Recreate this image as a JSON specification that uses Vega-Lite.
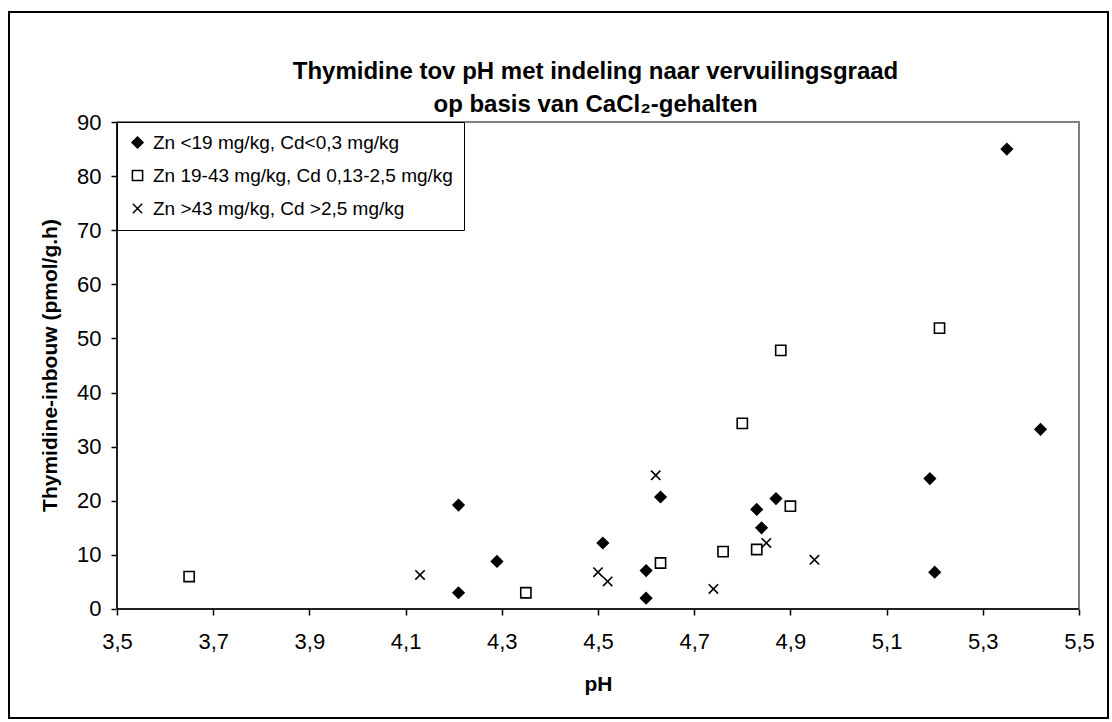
{
  "$schema": "https://vega.github.io/schema/vega-lite/v6.json",
  "width": 1099,
  "height": 706,
  "autosize": "none",
  "padding": {"left": 9, "top": 12, "right": 4, "bottom": 4},
  "background": "white",
  "title": {
    "text": ["Thymidine tov pH met indeling naar vervuilingsgraad", "op basis van CaCl₂-gehalten"],
    "font": "Liberation Sans",
    "fontSize": 24,
    "fontWeight": "bold",
    "color": "black",
    "lineHeight": 33,
    "anchor": "middle",
    "offset": 8,
    "dx": 37,
    "dy": 113
  },
  "layer": [
    {
      "data": {"values": [{}]},
      "mark": {"type": "rect", "fill": "white", "stroke": "#808080", "strokeWidth": 2},
      "encoding": {
        "x": {"datum": 3.5, "type": "quantitative"},
        "x2": {"datum": 5.5},
        "y": {"datum": 0, "type": "quantitative"},
        "y2": {"datum": 90}
      }
    },
    {
      "data": {"values": [{}]},
      "mark": {"type": "rule", "color": "black", "strokeWidth": 1.5},
      "encoding": {
        "x": {"datum": 3.5, "type": "quantitative"},
        "y": {"datum": 0, "type": "quantitative"},
        "y2": {"datum": 90}
      }
    },
    {
      "data": {"values": [{}]},
      "mark": {"type": "rule", "color": "black", "strokeWidth": 1.5},
      "encoding": {
        "x": {"datum": 3.5, "type": "quantitative"},
        "x2": {"datum": 5.5},
        "y": {"datum": 0, "type": "quantitative"}
      }
    },
    {
      "data": {
        "values": [
          {"pH": 4.21, "t": 19.2, "g": "Zn <19 mg/kg, Cd<0,3 mg/kg"},
          {"pH": 4.29, "t": 8.8, "g": "Zn <19 mg/kg, Cd<0,3 mg/kg"},
          {"pH": 4.21, "t": 3.0, "g": "Zn <19 mg/kg, Cd<0,3 mg/kg"},
          {"pH": 4.51, "t": 12.2, "g": "Zn <19 mg/kg, Cd<0,3 mg/kg"},
          {"pH": 4.6, "t": 7.1, "g": "Zn <19 mg/kg, Cd<0,3 mg/kg"},
          {"pH": 4.6, "t": 2.0, "g": "Zn <19 mg/kg, Cd<0,3 mg/kg"},
          {"pH": 4.63, "t": 20.7, "g": "Zn <19 mg/kg, Cd<0,3 mg/kg"},
          {"pH": 4.83, "t": 18.4, "g": "Zn <19 mg/kg, Cd<0,3 mg/kg"},
          {"pH": 4.84, "t": 15.0, "g": "Zn <19 mg/kg, Cd<0,3 mg/kg"},
          {"pH": 4.87, "t": 20.4, "g": "Zn <19 mg/kg, Cd<0,3 mg/kg"},
          {"pH": 5.19, "t": 24.1, "g": "Zn <19 mg/kg, Cd<0,3 mg/kg"},
          {"pH": 5.2, "t": 6.8, "g": "Zn <19 mg/kg, Cd<0,3 mg/kg"},
          {"pH": 5.42, "t": 33.2, "g": "Zn <19 mg/kg, Cd<0,3 mg/kg"},
          {"pH": 5.35, "t": 85.0, "g": "Zn <19 mg/kg, Cd<0,3 mg/kg"},
          {"pH": 3.65, "t": 6.0, "g": "Zn 19-43 mg/kg, Cd 0,13-2,5 mg/kg"},
          {"pH": 4.35, "t": 3.0, "g": "Zn 19-43 mg/kg, Cd 0,13-2,5 mg/kg"},
          {"pH": 4.63, "t": 8.5, "g": "Zn 19-43 mg/kg, Cd 0,13-2,5 mg/kg"},
          {"pH": 4.76, "t": 10.6, "g": "Zn 19-43 mg/kg, Cd 0,13-2,5 mg/kg"},
          {"pH": 4.8, "t": 34.3, "g": "Zn 19-43 mg/kg, Cd 0,13-2,5 mg/kg"},
          {"pH": 4.83, "t": 11.0, "g": "Zn 19-43 mg/kg, Cd 0,13-2,5 mg/kg"},
          {"pH": 4.88, "t": 47.8, "g": "Zn 19-43 mg/kg, Cd 0,13-2,5 mg/kg"},
          {"pH": 4.9, "t": 19.0, "g": "Zn 19-43 mg/kg, Cd 0,13-2,5 mg/kg"},
          {"pH": 5.21, "t": 51.9, "g": "Zn 19-43 mg/kg, Cd 0,13-2,5 mg/kg"},
          {"pH": 4.13, "t": 6.3, "g": "Zn >43 mg/kg, Cd >2,5 mg/kg"},
          {"pH": 4.5, "t": 6.8, "g": "Zn >43 mg/kg, Cd >2,5 mg/kg"},
          {"pH": 4.52, "t": 5.1, "g": "Zn >43 mg/kg, Cd >2,5 mg/kg"},
          {"pH": 4.62, "t": 24.7, "g": "Zn >43 mg/kg, Cd >2,5 mg/kg"},
          {"pH": 4.74, "t": 3.7, "g": "Zn >43 mg/kg, Cd >2,5 mg/kg"},
          {"pH": 4.85, "t": 12.2, "g": "Zn >43 mg/kg, Cd >2,5 mg/kg"},
          {"pH": 4.95, "t": 9.1, "g": "Zn >43 mg/kg, Cd >2,5 mg/kg"}
        ]
      },
      "mark": {"type": "point", "filled": true, "stroke": "black", "strokeWidth": 1.6, "opacity": 1},
      "encoding": {
        "x": {
          "field": "pH", "type": "quantitative",
          "scale": {"domain": [3.27547, 5.56029], "nice": false, "zero": false},
          "axis": {
            "title": "pH",
            "offset": -109,
            "domain": false,
            "values": [3.5, 3.7, 3.9, 4.1, 4.3, 4.5, 4.7, 4.9, 5.1, 5.3, 5.5],
            "labelExpr": "replace(format(datum.value, '.1f'), '.', ',')",
            "labelPadding": 16,
            "titlePadding": 21,
            "titleX": 589
          }
        },
        "y": {
          "field": "t", "type": "quantitative",
          "scale": {"domain": [-20.144, 110.329], "nice": false, "zero": false},
          "axis": {
            "title": "Thymidine-inbouw (pmol/g.h)",
            "offset": -108,
            "domain": false,
            "values": [0, 10, 20, 30, 40, 50, 60, 70, 80, 90],
            "labelPadding": 10,
            "titlePadding": 16
          }
        },
        "shape": {
          "field": "g", "type": "nominal",
          "scale": {
            "domain": ["Zn <19 mg/kg, Cd<0,3 mg/kg", "Zn 19-43 mg/kg, Cd 0,13-2,5 mg/kg", "Zn >43 mg/kg, Cd >2,5 mg/kg"],
            "range": ["diamond", "square", "M-1,-1L1,1M-1,1L1,-1"]
          },
          "legend": {
            "title": null, "orient": "none", "legendX": 108, "legendY": 110,
            "padding": 11, "rowPadding": 13, "labelOffset": 6, "labelLimit": 500,
            "labelFontSize": 19, "labelFont": "Liberation Sans", "labelColor": "black",
            "strokeColor": "black", "fillColor": "white"
          }
        },
        "fill": {
          "field": "g", "type": "nominal",
          "scale": {
            "domain": ["Zn <19 mg/kg, Cd<0,3 mg/kg", "Zn 19-43 mg/kg, Cd 0,13-2,5 mg/kg", "Zn >43 mg/kg, Cd >2,5 mg/kg"],
            "range": ["black", "white", "transparent"]
          },
          "legend": {
            "title": null, "orient": "none", "legendX": 108, "legendY": 110,
            "padding": 11, "rowPadding": 13, "labelOffset": 6, "labelLimit": 500,
            "labelFontSize": 19, "labelFont": "Liberation Sans", "labelColor": "black",
            "strokeColor": "black", "fillColor": "white"
          }
        },
        "size": {
          "field": "g", "type": "nominal",
          "scale": {
            "domain": ["Zn <19 mg/kg, Cd<0,3 mg/kg", "Zn 19-43 mg/kg, Cd 0,13-2,5 mg/kg", "Zn >43 mg/kg, Cd >2,5 mg/kg"],
            "range": [120, 88, 121]
          },
          "legend": {
            "title": null, "orient": "none", "legendX": 108, "legendY": 110,
            "padding": 11, "rowPadding": 13, "labelOffset": 6, "labelLimit": 500,
            "labelFontSize": 19, "labelFont": "Liberation Sans", "labelColor": "black",
            "strokeColor": "black", "fillColor": "white"
          }
        }
      }
    }
  ],
  "config": {
    "font": "Liberation Sans",
    "view": {"stroke": "black", "strokeWidth": 2, "fill": "white"},
    "axis": {
      "grid": false,
      "tickColor": "black",
      "tickWidth": 1.5,
      "tickSize": 6,
      "labelFont": "Liberation Sans",
      "labelFontSize": 22,
      "labelColor": "black",
      "titleFont": "Liberation Sans",
      "titleFontSize": 21,
      "titleFontWeight": "bold",
      "titleColor": "black"
    }
  }
}
